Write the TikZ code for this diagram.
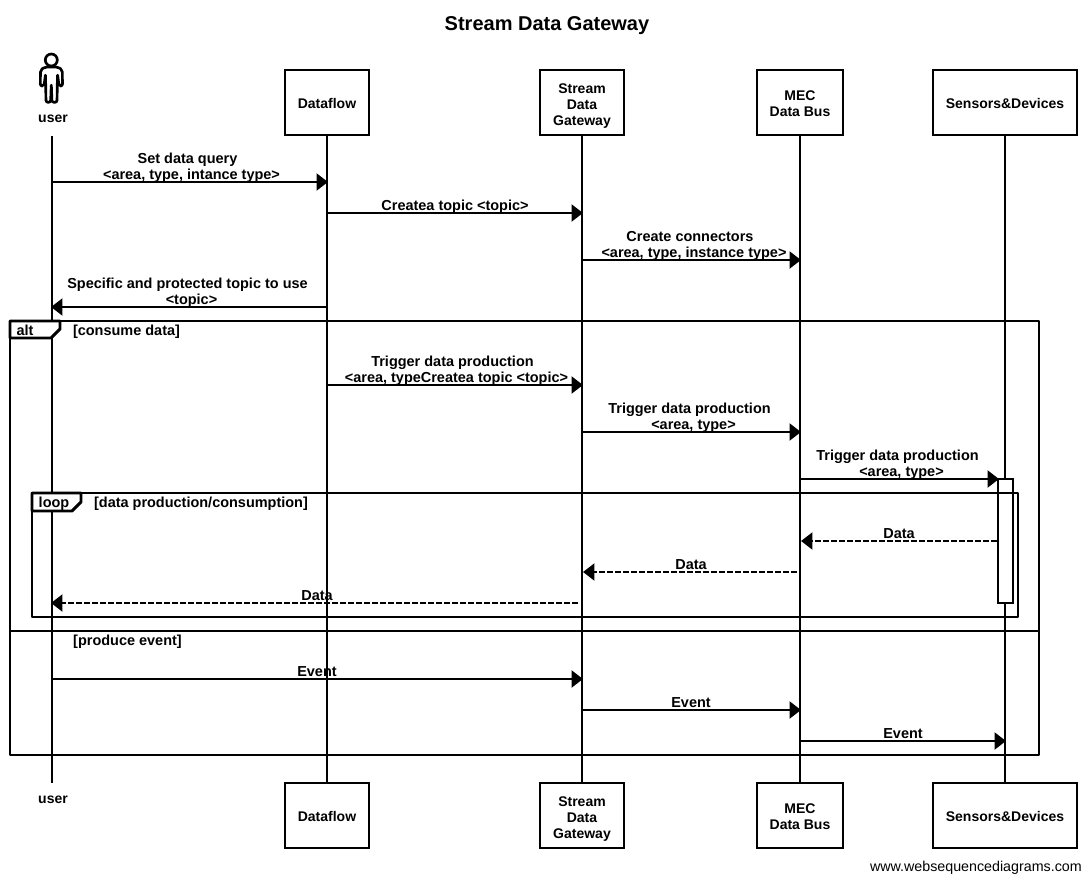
\documentclass[tikz,border=0pt]{standalone}
\usepackage{fontspec}
\setmainfont{Liberation Sans}
\usetikzlibrary{arrows.meta,calc}
\tikzset{
  lane/.style={draw=black,line width=2.2pt,fill=white,align=center,font=\bfseries\fontsize{10.5}{12}\selectfont,inner sep=0pt,outer sep=0pt,minimum height=48.75pt},
  life/.style={draw=black,line width=2.2pt},
  msg/.style={draw=black,line width=2.2pt,shorten >=-.75pt,-{Triangle[length=8.6pt,width=12.6pt]}},
  ret/.style={msg,dash pattern=on 4.3pt off 1.7pt},
  lbl/.style={align=center,font=\bfseries\fontsize{10.85}{12}\selectfont,inner sep=0pt,text=black,yshift=-1.5pt},
  frame/.style={draw=black,line width=2.2pt,line join=round},
  tab/.style={frame,fill=white},
  actor/.style={draw=black,line width=2pt,fill=white,line join=round}
}
\newcommand{\sndl}[1]{\hspace*{6pt}#1}
\newcommand{\lift}[1]{\rule{0pt}{#1}}
\begin{document}
\begin{tikzpicture}[x=.75pt,y=-.75pt]
\useasboundingbox (0,0) rectangle (1092,882);
\node[lbl,font=\bfseries\fontsize{15}{18}\selectfont] (title) at (547,23.5) {Stream Data Gateway};
% top participants
\node[lbl,font=\bfseries\fontsize{10.5}{12}\selectfont] (uT) at (53,117) {user};
\coordinate (uA) at (52,136);
\node[lane,minimum width=63pt] (dfT) at (327,102.5) {\lift{9pt}Dataflow};
\node[lane,minimum width=63pt] (sgT) at (582,102.5) {\lift{12pt}Stream\\Data\\Gateway};
\node[lane,minimum width=64.5pt] (mbT) at (800,102.5) {\lift{9pt}MEC\\Data Bus};
\node[lane,minimum width=108pt] (sdT) at (1005,102.5) {\lift{9pt}Sensors\&Devices};
% bottom participants
\node[lbl,font=\bfseries\fontsize{10.5}{12}\selectfont] (uB) at (53,798) {user};
\coordinate (uZ) at (52,783);
\node[lane,minimum width=63pt] (dfB) at (327,815.5) {\lift{9pt}Dataflow};
\node[lane,minimum width=63pt] (sgB) at (582,815.5) {\lift{12pt}Stream\\Data\\Gateway};
\node[lane,minimum width=64.5pt] (mbB) at (800,815.5) {\lift{9pt}MEC\\Data Bus};
\node[lane,minimum width=108pt] (sdB) at (1005,815.5) {\lift{9pt}Sensors\&Devices};
% lifelines
\draw[life] (uA) -- (uZ);
\draw[life] (dfT.south) -- (dfB.north);
\draw[life] (sgT.south) -- (sgB.north);
\draw[life] (mbT.south) -- (mbB.north);
\draw[life] (sdT.south) -- (sdB.north);
% actor
\draw[actor] (51.3,60) circle[radius=6];
\draw[actor,rounded corners=1.5pt] (45,67) -- (58,67) -- (62.3,70) -- (62.5,86) -- (59,86) -- (57.5,74) -- (57,102.3) -- (52,102.3) -- (51.3,84) -- (50.6,102.3) -- (46,102.3) -- (45.5,74) -- (44,86) -- (40.3,86) -- (40.5,70) -- cycle;
% activation
\node[draw=black,line width=2.2pt,fill=white,minimum width=11.25pt,minimum height=93pt,inner sep=0pt,outer sep=0pt] (act) at (1005.5,541) {};
% messages
\draw[msg] (uA |- 0,182) -- (dfT.south |- 0,182);
\node[lbl] (m1) at (187.5,166) {Set data query\\\sndl{<area, type, intance type>}};
\draw[msg] (dfT.south |- 0,213) -- (sgT.south |- 0,213);
\node[lbl] (m2) at (455,205) {Createa topic <topic>};
\draw[msg] (sgT.south |- 0,260) -- (mbT.south |- 0,260);
\node[lbl] (m3) at (690,244) {Create connectors\\\sndl{<area, type, instance type>}};
\draw[msg] (dfT.south |- 0,307) -- (uA |- 0,307);
\node[lbl] (m4) at (187.5,291) {Specific and protected topic to use\\\sndl{<topic>}};
\draw[msg] (dfT.south |- 0,385) -- (sgT.south |- 0,385);
\node[lbl] (m5) at (452.5,369) {Trigger data production\\\sndl{<area, typeCreatea topic <topic>}};
\draw[msg] (sgT.south |- 0,432) -- (mbT.south |- 0,432);
\node[lbl] (m6) at (689.5,416) {Trigger data production\\\sndl{<area, type>}};
\draw[msg] (mbT.south |- 0,479) -- (act.north west);
\node[lbl] (m7) at (897.5,463) {Trigger data production\\\sndl{<area, type>}};
\draw[ret] ($(act.west |- 0,541)+(-1,0)$) -- ($(mbT.south |- 0,541)+(2,0)$);
\node[lbl] (m8) at (899,532) {Data};
\draw[ret] ($(mbT.south |- 0,572)+(-3,0)$) -- ($(sgT.south |- 0,572)+(2,0)$);
\node[lbl] (m9) at (691,563) {Data};
\draw[ret] ($(sgT.south |- 0,603)+(-4,0)$) -- (uA |- 0,603);
\node[lbl] (m10) at (317,594) {Data};
\draw[msg] (uA |- 0,679) -- (sgT.south |- 0,679);
\node[lbl] (m11) at (317,670) {Event};
\draw[msg] (sgT.south |- 0,710) -- (mbT.south |- 0,710);
\node[lbl] (m12) at (691,701) {Event};
\draw[msg] (mbT.south |- 0,741) -- (sdT.south |- 0,741);
\node[lbl] (m13) at (903,732) {Event};
% frames
\draw[frame] (10,321) rectangle (1039,755);
\draw[frame] (10,631) -- (1039,631);
\draw[tab] (10,321) -- (60,321) -- (60,329) -- (51,338) -- (10,338) -- cycle;
\node[lbl] (altL) at (25,328.5) {alt};
\node[lbl] (altG) at (126.5,330) {[consume data]};
\node[lbl] (altH) at (127.5,640) {[produce event]};
\draw[frame] (32,493) rectangle (1018,617);
\draw[tab] (32,493) -- (81,493) -- (81,502) -- (72,511) -- (32,511) -- cycle;
\node[lbl] (loopL) at (54,502) {loop};
\node[lbl] (loopG) at (201,502) {[data production/consumption]};
\node[lbl,font=\fontsize{10.7}{12}\selectfont,anchor=east] (foot) at (1082,866) {www.websequencediagrams.com};
\end{tikzpicture}
\end{document}
